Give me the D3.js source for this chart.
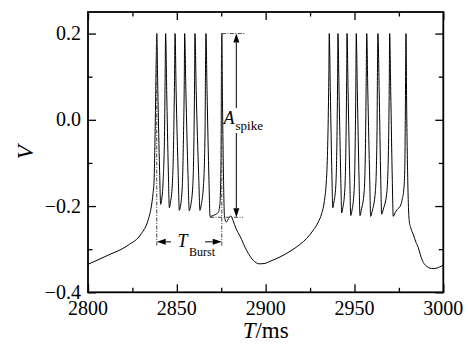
<!DOCTYPE html>
<html>
<head>
<meta charset="utf-8">
<script src="https://cdn.jsdelivr.net/npm/d3@7"></script>
<style>
  body { margin: 0; background: #fff; }
  svg text { font-family: "Liberation Serif", Tinos, "Nimbus Roman", "Nimbus Roman No9 L", FreeSerif, "DejaVu Serif", "Noto Serif", serif; }
</style>
</head>
<body>
<div id="container"></div>
<script>
/** CONSTANTS AND GLOBALS */
const width = 468, height = 347;
const margin = { top: 12, right: 25, bottom: 55, left: 88 };

// axis ticks
const xMajor = [2800, 2850, 2900, 2950, 3000];
const xMinor = [2825, 2875, 2925, 2975];
const yMajor = [-0.4, -0.2, 0.0, 0.2];
const yMinor = [-0.3, -0.1, 0.1];

// membrane potential trace, [t (ms), V]
const preBurst = [[2800,-0.335],[2811.3,-0.314],[2822.5,-0.291],[2830.0,-0.264],[2833.8,-0.233],[2835.6,-0.202],[2836.6,-0.171],[2837.2,-0.141],[2837.7,-0.048],[2838.4,0.137]];

const burst1 = [
  [2838.7,0.2],[2839.3,0.068],[2840.3,-0.117],[2840.9,-0.196],[2841.4,-0.187],[2842.3,-0.141],[2843.1,-0.025],[2843.4,0.091],
  [2843.7,0.2],[2844.3,0.068],[2845.2,-0.117],[2845.8,-0.204],[2846.3,-0.194],[2847.5,-0.148],[2848.3,-0.025],[2848.7,0.091],
  [2849.0,0.2],[2849.6,0.068],[2850.8,-0.129],[2851.4,-0.210],[2852.0,-0.201],[2853.1,-0.152],[2853.8,-0.025],[2854.2,0.091],
  [2854.4,0.2],[2855.1,0.068],[2856.3,-0.129],[2857.0,-0.211],[2857.7,-0.201],[2859.0,-0.152],[2859.7,-0.025],[2860.0,0.091],
  [2860.2,0.2],[2860.9,0.068],[2862.3,-0.129],[2863.0,-0.210],[2863.7,-0.198],[2865.0,-0.152],[2865.9,-0.025],[2866.1,0.091],
  [2866.4,0.2],[2867.0,0.068],[2868.1,-0.141],[2868.7,-0.224],[2869.8,-0.223],[2871.5,-0.220],[2873.3,-0.215],[2874.2,-0.198],[2874.7,-0.141],[2875.0,-0.002],[2875.1,0.114],
  [2875.3,0.2]
];

const interBurst = [[2875.7,0.044],[2876.3,-0.141],[2876.8,-0.222],[2877.8,-0.237],[2879.1,-0.229],[2880.4,-0.223],[2881.6,-0.233],[2883.3,-0.252],[2885.6,-0.270],[2889.3,-0.303],[2893.1,-0.326],[2896.4,-0.334],[2899.6,-0.333],[2902.5,-0.328],[2908.1,-0.318],[2913.7,-0.305],[2919.3,-0.289],[2923.1,-0.275],[2926.8,-0.256],[2929.5,-0.238],[2931.5,-0.218],[2933.1,-0.187],[2934.0,-0.152],[2934.7,-0.094],[2935.3,0.022],[2935.6,0.114]];

const burst2 = [
  [2935.8,0.2],[2936.4,0.068],[2937.3,-0.129],[2937.8,-0.204],[2938.3,-0.194],[2939.5,-0.152],[2940.2,-0.025],[2940.5,0.091],
  [2940.7,0.2],[2941.3,0.068],[2942.3,-0.136],[2942.8,-0.216],[2943.4,-0.205],[2944.6,-0.159],[2945.3,-0.025],[2945.6,0.091],
  [2945.8,0.2],[2946.4,0.068],[2947.4,-0.141],[2947.9,-0.222],[2948.6,-0.210],[2949.8,-0.164],[2950.5,-0.025],[2950.8,0.091],
  [2951.0,0.2],[2951.6,0.068],[2952.6,-0.141],[2953.1,-0.222],[2953.8,-0.210],[2955.5,-0.164],[2956.3,-0.025],[2956.6,0.091],
  [2956.9,0.2],[2957.5,0.068],[2958.6,-0.141],[2959.1,-0.224],[2959.9,-0.213],[2961.8,-0.164],[2962.7,-0.025],[2962.9,0.091],
  [2963.2,0.2],[2963.9,0.068],[2964.8,-0.141],[2965.3,-0.219],[2966.2,-0.208],[2968.3,-0.164],[2969.3,-0.025],[2969.6,0.091],
  [2969.8,0.2],[2970.4,0.068],[2971.3,-0.141],[2971.8,-0.224],[2972.8,-0.216],[2974.1,-0.208],[2976.0,-0.198],[2977.0,-0.182],[2977.7,-0.164],[2978.3,-0.117],[2978.6,-0.002],[2978.8,0.114],
  [2979.0,0.2]
];

const postBurst = [[2979.4,0.022],[2980.0,-0.141],[2980.8,-0.233],[2981.8,-0.252],[2983.1,-0.266],[2984.6,-0.284],[2985.9,-0.296],[2986.9,-0.310],[2987.8,-0.322],[2989.1,-0.333],[2990.7,-0.340],[2992.5,-0.344],[2994.4,-0.345],[2996.3,-0.344],[2998.1,-0.341],[3000,-0.337]];

// annotation values (data units)
const tBurst = [2838.7, 2875.3];     // start / end of first burst
const tBurstDrop = -0.295;           // where the dashed guides stop
const tBurstArrowV = -0.283;         // level of the T_Burst arrows
const aSpikeT = 2883.5;              // x of the A_spike arrow
const aSpikeV = [-0.226, 0.2];       // trough / peak
const aSpikeGuideTop = [2875.3, 2888];
const aSpikeGuideBottom = [2868.7, 2887.3];

/** SCALES */
const x = d3.scaleLinear().domain([2800, 3000]).range([margin.left, width - margin.right + 0.3]);
const y = d3.scaleLinear().domain([-0.4, 0.25]).range([height - margin.bottom + 0.3, margin.top]);

const svg = d3.select("#container")
  .append("svg")
  .attr("width", width)
  .attr("height", height);

svg.append("rect").attr("width", width).attr("height", height).attr("fill", "#fff");

/** TRACE */
const trace = [].concat(preBurst, burst1, interBurst, burst2, postBurst);

const line = d3.line()
  .x(d => x(d[0]))
  .y(d => y(d[1]))
  .curve(d3.curveMonotoneX);

svg.append("path")
  .datum(trace)
  .attr("fill", "none")
  .attr("stroke", "#000")
  .attr("stroke-width", 1)
  .attr("d", line);

/** AXES (ticks on all four sides, pointing in) */
const x0 = x.range()[0], x1 = x.range()[1];
const y0 = y.range()[0], y1 = y.range()[1];

function tickAxis(axis, ticks, size, transform) {
  svg.append("g")
    .attr("transform", transform)
    .call(axis.tickValues(ticks).tickSize(size).tickFormat(""))
    .call(g => g.select(".domain").remove())
    .call(g => g.selectAll("line").attr("stroke", "#000").attr("stroke-width", 1.3));
}
tickAxis(d3.axisBottom(x), xMajor, -8, `translate(0,${y0})`);
tickAxis(d3.axisBottom(x), xMinor, -4.5, `translate(0,${y0})`);
tickAxis(d3.axisTop(x), xMajor, -8, `translate(0,${y1})`);
tickAxis(d3.axisTop(x), xMinor, -4.5, `translate(0,${y1})`);
tickAxis(d3.axisLeft(y), yMajor, -8, `translate(${x0},0)`);
tickAxis(d3.axisLeft(y), yMinor, -4.5, `translate(${x0},0)`);
tickAxis(d3.axisRight(y), yMajor, -8, `translate(${x1},0)`);
tickAxis(d3.axisRight(y), yMinor, -4.5, `translate(${x1},0)`);

svg.append("rect")
  .attr("x", x0).attr("y", y1)
  .attr("width", x1 - x0).attr("height", y0 - y1)
  .attr("fill", "none")
  .attr("stroke", "#000")
  .attr("stroke-width", 1.8);

// tick labels
svg.append("g").selectAll("text")
  .data(xMajor)
  .join("text")
  .attr("x", d => x(d))
  .attr("y", y0 + 23)
  .attr("text-anchor", "middle")
  .attr("font-size", 20)
  .text(d => d);

svg.append("g").selectAll("text")
  .data(yMajor)
  .join("text")
  .attr("x", x0 - 7)
  .attr("y", d => y(d) + 6.5)
  .attr("text-anchor", "end")
  .attr("font-size", 20)
  .text(d => d3.format(".1f")(d));

// axis titles
svg.append("text")
  .attr("transform", `translate(33,${(y0 + y1) / 2}) rotate(-90)`)
  .attr("text-anchor", "middle")
  .attr("font-size", 23)
  .attr("font-style", "italic")
  .text("V");

const xt = svg.append("text")
  .attr("x", (x0 + x1) / 2)
  .attr("y", y0 + 46)
  .attr("text-anchor", "middle")
  .attr("font-size", 23);
xt.append("tspan").attr("font-style", "italic").text("T");
xt.append("tspan").text("/ms");

/** ANNOTATIONS */
const guide = { stroke: "#444", "stroke-width": 1, "stroke-dasharray": "4,1.5,1,1.5" };
function dashed(xa, ya, xb, yb) {
  const l = svg.append("line").attr("x1", xa).attr("y1", ya).attr("x2", xb).attr("y2", yb);
  Object.entries(guide).forEach(([k, v]) => l.attr(k, v));
}
function arrow(xa, ya, xb, yb) {
  // line from a to b with a filled head at b
  const ang = Math.atan2(yb - ya, xb - xa), len = 9, hw = 3;
  const bx = xb - len * Math.cos(ang), by = yb - len * Math.sin(ang);
  svg.append("line").attr("x1", xa).attr("y1", ya).attr("x2", bx).attr("y2", by)
    .attr("stroke", "#000").attr("stroke-width", 1);
  svg.append("path")
    .attr("d", `M${xb},${yb}L${bx - hw * Math.sin(ang)},${by + hw * Math.cos(ang)}L${bx + hw * Math.sin(ang)},${by - hw * Math.cos(ang)}Z`)
    .attr("fill", "#000");
}

// T_Burst
dashed(x(tBurst[0]), y(0.2), x(tBurst[0]), y(tBurstDrop));
dashed(x(tBurst[1]), y(0.2), x(tBurst[1]), y(tBurstDrop));
arrow(171, y(tBurstArrowV), x(tBurst[0]), y(tBurstArrowV));
arrow(205, y(tBurstArrowV), x(tBurst[1]), y(tBurstArrowV));
const tb = svg.append("text").attr("x", 177.5).attr("y", 246.5);
tb.append("tspan").attr("font-style", "italic").attr("font-size", 18).text("T");
tb.append("tspan").attr("font-size", 12).attr("dx", 1.5).attr("dy", 9.5).text("Burst");

// A_spike
dashed(x(aSpikeGuideTop[0]), y(aSpikeV[1]), x(aSpikeGuideTop[1]), y(aSpikeV[1]));
dashed(x(aSpikeGuideBottom[0]), y(aSpikeV[0]), x(aSpikeGuideBottom[1]), y(aSpikeV[0]));
arrow(x(aSpikeT), 108, x(aSpikeT), y(aSpikeV[1]));
arrow(x(aSpikeT), 133, x(aSpikeT), y(aSpikeV[0]));
const as = svg.append("text").attr("x", 223.5).attr("y", 123.5);
as.append("tspan").attr("font-style", "italic").attr("font-size", 18).text("A");
as.append("tspan").attr("font-size", 13).attr("dx", 1).attr("dy", 6.5).text("spike");
</script>
</body>
</html>
